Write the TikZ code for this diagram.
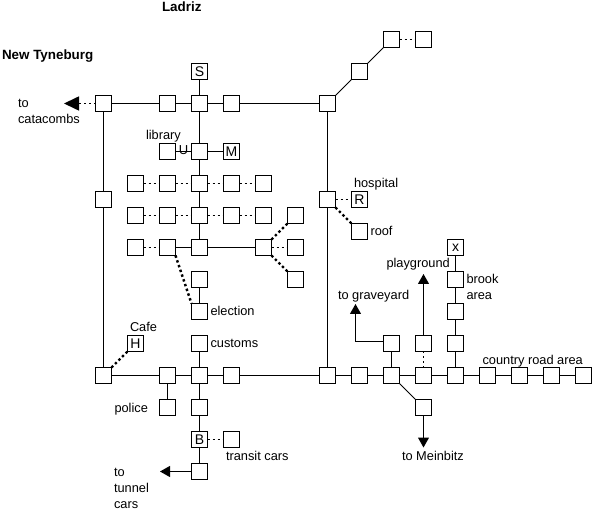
\documentclass[tikz,border=0pt]{standalone}
\usepackage{fontspec}
\setmainfont{Liberation Sans}
\usetikzlibrary{arrows.meta}
\tikzset{
  x=1pt,y=-1pt,
  room/.style={draw=black,fill=white,line width=1pt,minimum size=16pt,inner sep=0pt,outer sep=0pt,font=\fontsize{14}{14}\selectfont},
  road/.style={draw=black,line width=1pt},
  thinroad/.style={draw=black,line width=.8pt},
  dots/.style={draw=black,line width=1.6pt,dash pattern=on 2pt off 3pt},
  bigdots/.style={draw=black,line width=2.4pt,dash pattern=on 2.4pt off 2.6pt},
  lbl/.style={anchor=base west,inner sep=0pt,outer sep=0pt,font=\fontsize{12.8}{13}\selectfont},
  ttl/.style={anchor=base west,inner sep=0pt,outer sep=0pt,font=\bfseries\fontsize{13.4}{14}\selectfont},
  arr/.style={-{Triangle[length=10pt,width=11pt,fill=black]}},
  bigarr/.style={-{Triangle[length=15pt,width=14pt,fill=black]}},
}
\begin{document}
\begin{tikzpicture}
\useasboundingbox (0,0) rectangle (595,513);
% top
\node[room] (S) at (199.5,71.5) {S};
\node[room] (a1) at (359.5,71.5) {};
\node[room] (a2) at (391.5,39.5) {};
\node[room] (a3) at (423.5,39.5) {};
% row 103
\node[room] (b1) at (103.5,103.5) {};
\node[room] (b2) at (167.5,103.5) {};
\node[room] (b3) at (199.5,103.5) {};
\node[room] (b4) at (231.5,103.5) {};
\node[room] (b5) at (327.5,103.5) {};
% row 151
\node[room] (c1) at (167.5,151.5) {};
\node[room] (c2) at (199.5,151.5) {};
\node[room] (M) at (231.5,151.5) {M};
% row 183
\node[room] (d1) at (135.5,183.5) {};
\node[room] (d2) at (167.5,183.5) {};
\node[room] (d3) at (199.5,183.5) {};
\node[room] (d4) at (231.5,183.5) {};
\node[room] (d5) at (263.5,183.5) {};
% row 199
\node[room] (w) at (103.5,199.5) {};
\node[room] (h) at (327.5,199.5) {};
\node[room] (R) at (359.5,199.5) {R};
% row 215
\node[room] (e1) at (135.5,215.5) {};
\node[room] (e2) at (167.5,215.5) {};
\node[room] (e3) at (199.5,215.5) {};
\node[room] (e4) at (231.5,215.5) {};
\node[room] (e5) at (263.5,215.5) {};
\node[room] (e6) at (295.5,215.5) {};
\node[room] (roof) at (359.5,231.5) {};
% row 247
\node[room] (f1) at (135.5,247.5) {};
\node[room] (f2) at (167.5,247.5) {};
\node[room] (f3) at (199.5,247.5) {};
\node[room] (f4) at (263.5,247.5) {};
\node[room] (f5) at (295.5,247.5) {};
\node[room] (X) at (455.5,247.5) {x};
% rows 279, 311
\node[room] (g1) at (199.5,279.5) {};
\node[room] (g2) at (295.5,279.5) {};
\node[room] (g3) at (455.5,279.5) {};
\node[room] (el) at (199.5,311.5) {};
\node[room] (g4) at (455.5,311.5) {};
% row 343
\node[room] (H) at (135.5,343.5) {H};
\node[room] (cu) at (199.5,343.5) {};
\node[room] (i1) at (391.5,343.5) {};
\node[room] (i2) at (423.5,343.5) {};
\node[room] (i3) at (455.5,343.5) {};
% row 375
\node[room] (j1) at (103.5,375.5) {};
\node[room] (j2) at (167.5,375.5) {};
\node[room] (j3) at (199.5,375.5) {};
\node[room] (j4) at (231.5,375.5) {};
\node[room] (j5) at (327.5,375.5) {};
\node[room] (j6) at (359.5,375.5) {};
\node[room] (j7) at (391.5,375.5) {};
\node[room] (j8) at (423.5,375.5) {};
\node[room] (j9) at (455.5,375.5) {};
\node[room] (j10) at (487.5,375.5) {};
\node[room] (j11) at (519.5,375.5) {};
\node[room] (j12) at (551.5,375.5) {};
\node[room] (j13) at (583.5,375.5) {};
% below
\node[room] (k1) at (167.5,407.5) {};
\node[room] (k2) at (199.5,407.5) {};
\node[room] (k3) at (423.5,407.5) {};
\node[room] (B) at (199.5,439.5) {B};
\node[room] (tr) at (231.5,439.5) {};
\node[room] (tu) at (199.5,471.5) {};
% free ends
\coordinate (catTip) at (64,103.5);
\coordinate (tunTip) at (160,471.5);
\coordinate (gravTip) at (355.5,304);
\coordinate (gravBend) at (355.5,341.5);
\coordinate (playTip) at (423.5,274);
\coordinate (meiTip) at (423.5,447.5);
% solid
\draw[road] (b1)--(b2) (b2)--(b3) (b3)--(b4) (b4)--(b5);
\draw[road] (S)--(b3) (b3)--(c2) (c2)--(d3) (d3)--(e3) (e3)--(f3);
\draw[road] (b1)--(w) (w)--(j1);
\draw[road] (b5)--(h) (h)--(j5);
\draw[thinroad] (b5.north east)--(a1.south west) (a1.north east)--(a2.south west);
\draw[road] (c1)--(c2) (c2)--(M);
\draw[road] (f2)--(f3) (f3)--(f4);
\draw[road] (g1)--(el);
\draw[road] (cu)--(j3) (j3)--(k2) (k2)--(B) (B)--(tu);
\draw[road] (j2)--(k1);
\draw[road] (j1)--(j2) (j2)--(j3) (j3)--(j4) (j4)--(j5) (j5)--(j6) (j6)--(j7) (j7)--(j8) (j8)--(j9) (j9)--(j10) (j10)--(j11) (j11)--(j12) (j12)--(j13);
\draw[road] (i1)--(j7) (i3)--(j9) (g4)--(i3) (g3)--(g4) (X)--(g3);
\draw[thinroad] (j7.south east)--(k3.north west);
% arrows
\draw[road,arr] (tu)--(tunTip);
\draw[road,arr] (i1.west |- gravBend)--(gravBend)--(gravTip);
\draw[road,arr] (i2)--(playTip);
\draw[road,arr] (k3)--(meiTip);
\draw[dots,bigarr] (b1)--(catTip);
% dotted
\draw[dots] (a2)--(a3) (d1)--(d2) (d2)--(d3) (d3)--(d4) (d4)--(d5);
\draw[dots] (e1)--(e2) (e2)--(e3) (e3)--(e4) (e4)--(e5);
\draw[dots] (f1)--(f2) (f4)--(f5) (h)--(R) (B)--(tr) (i2)--(j8);
\draw[bigdots] (f4.north east)--(e6.south west);
\draw[bigdots] (f4.south east)--(g2.north west);
\draw[bigdots] (f2.south east)--(el.north west);
\draw[bigdots] (h.south east)--(roof.north west);
\draw[bigdots] (j1.north east)--(H.south west);
% labels
\node[lbl,anchor=center,font=\fontsize{13}{13}\selectfont] (U) at (183.5,150.5) {U};
\node[ttl] (tLadriz) at (162,12) {Ladriz};
\node[ttl] (tNew) at (2,60) {New Tyneburg};
\node[lbl] (l1) at (18,108) {to};
\node[lbl] (l2) at (18,124) {catacombs};
\node[lbl] (l3) at (146,140) {library};
\node[lbl] (l4) at (354,188) {hospital};
\node[lbl] (l5) at (370.5,236) {roof};
\node[lbl] (l6) at (210.5,316) {election};
\node[lbl] (l7) at (130,332) {Cafe};
\node[lbl] (l8) at (210.5,348) {customs};
\node[lbl] (l9) at (114.5,412) {police};
\node[lbl] (l10) at (226,460) {transit cars};
\node[lbl] (l11) at (114,476) {to};
\node[lbl] (l12) at (114,492) {tunnel};
\node[lbl] (l13) at (114,508) {cars};
\node[lbl] (l14) at (386.5,268) {playground};
\node[lbl] (l15) at (338,300) {to graveyard};
\node[lbl] (l16) at (466.5,284) {brook};
\node[lbl] (l17) at (466.5,300) {area};
\node[lbl] (l18) at (482.5,364) {country road area};
\node[lbl] (l19) at (402,460) {to Meinbitz};
\end{tikzpicture}
\end{document}
